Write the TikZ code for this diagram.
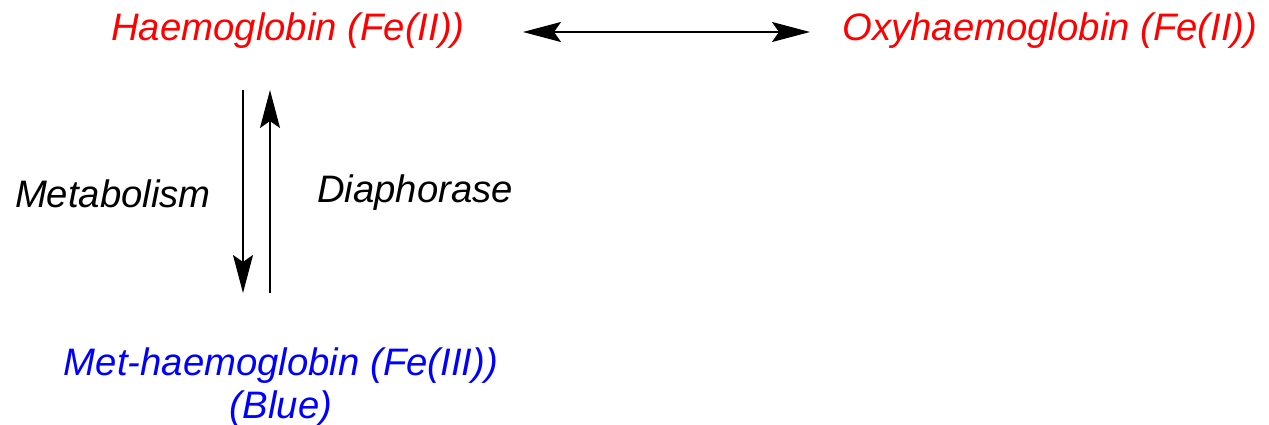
\documentclass[tikz,border=0pt]{standalone}
\usepackage{fontspec}
\setmainfont{Liberation Sans}
\usetikzlibrary{arrows.meta}
\tikzset{
	species/.style={anchor=base, inner sep=0pt, font=\fontsize{38.3}{44}\selectfont\itshape},
	tip/.tip={Stealth[length=38pt,width=20pt,inset=7pt]},
	reaction/.style={line width=2pt, -tip},
	equilibrium/.style={line width=2pt, tip-tip}
}
\begin{document}
\begin{tikzpicture}[x=1pt,y=-1pt]
			\useasboundingbox (0,0) rectangle (1269,425);
			%species
			\node[species, red] (hb) at (288, 41){Haemoglobin (Fe(II))};
			\node[species, red] (oxyhb) at (1050, 41){Oxyhaemoglobin (Fe(II))};
			\node[species, blue] (methb) at (281, 375){Met-haemoglobin (Fe(III))};
			\node[species, blue] (blue) at (281, 418){(Blue)};
			
			%labels
			\node[species] (metab) at (113, 207){Metabolism};
			\node[species] (diaph) at (415, 202){Diaphorase};
			
			%arrow ends
			\coordinate (eqL) at (523, 32);
			\coordinate (eqR) at (810, 32);
			\coordinate (downT) at (243, 90);
			\coordinate (downB) at (243, 293);
			\coordinate (upT) at (270, 90);
			\coordinate (upB) at (270, 293);
			
			\draw[equilibrium] (eqL) -- (eqR);
			\draw[reaction] (downT) -- (downB);
			\draw[reaction] (upB) -- (upT);
		\end{tikzpicture}
\end{document}
